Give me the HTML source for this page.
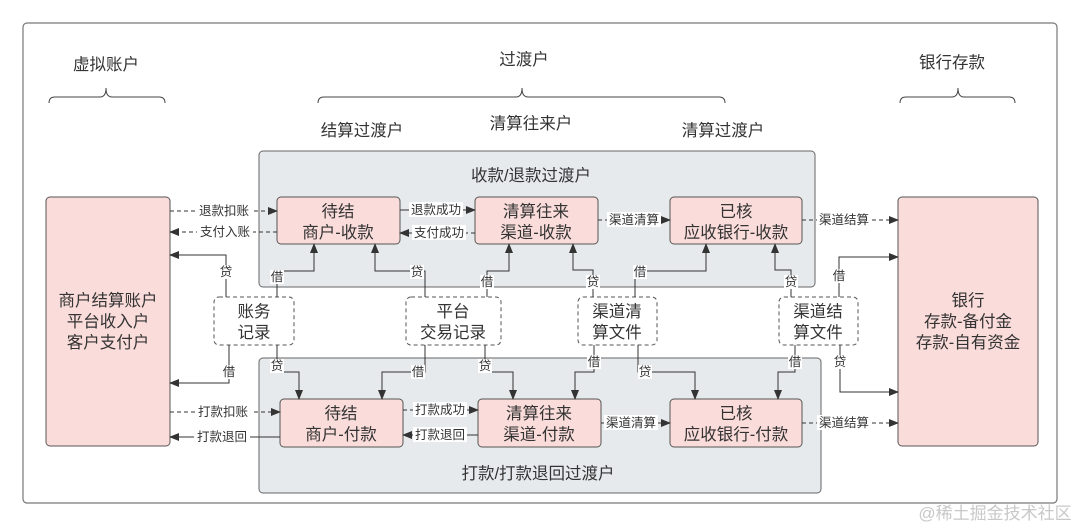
<!DOCTYPE html>
<html><head><meta charset="utf-8"><style>
html,body{margin:0;padding:0;background:#fff;width:1080px;height:527px;overflow:hidden}
svg text{font-family:"Liberation Sans","Noto Sans CJK SC",sans-serif;fill:#333}
.n{font-size:16.5px;text-anchor:middle}
.l{font-size:12.5px;text-anchor:middle}
</style></head><body>
<svg width="1080" height="527" viewBox="0 0 1080 527" xmlns="http://www.w3.org/2000/svg">
<defs>
<marker id="a" markerWidth="10" markerHeight="8" refX="9" refY="4" orient="auto" markerUnits="userSpaceOnUse">
<path d="M0,0 L10,4 L0,8 z" fill="#333"/></marker>
</defs>
<rect x="23" y="23" width="1034" height="480" rx="4" fill="#fff" stroke="#777" stroke-width="1.2"/>
<g fill="none" stroke="#444" stroke-width="1">
<path d="M49,103 Q49,97 55,97 L100,97 Q106,97 106,88 Q106,97 112,97 L159,97 Q165,97 165,103"/>
<path d="M318,103 Q318,97 324,97 L516,97 Q522,97 522,88 Q522,97 528,97 L719,97 Q725,97 725,103"/>
<path d="M900,103 Q900,97 906,97 L952,97 Q958,97 958,88 Q958,97 964,97 L1009,97 Q1015,97 1015,103"/>
</g>
<text class="n" x="106" y="70">虚拟账户</text>
<text class="n" x="524" y="65">过渡户</text>
<text class="n" x="952" y="68">银行存款</text>
<text class="n" x="362" y="136">结算过渡户</text>
<text class="n" x="531" y="129">清算往来户</text>
<text class="n" x="723" y="136">清算过渡户</text>
<rect x="259" y="151" width="556" height="136" rx="4" fill="#e6eaec" stroke="#666"/>
<rect x="259" y="358" width="562" height="135" rx="4" fill="#e6eaec" stroke="#666"/>
<text class="n" x="531" y="181">收款/退款过渡户</text>
<text class="n" x="538" y="479">打款/打款退回过渡户</text>
<rect x="46" y="197" width="124" height="249" rx="4" fill="#fadcda" stroke="#555"/>
<text class="n" x="108" y="306">商户结算账户</text>
<text class="n" x="108" y="327">平台收入户</text>
<text class="n" x="108" y="348">客户支付户</text>
<rect x="898" y="197" width="140" height="249" rx="4" fill="#fadcda" stroke="#555"/>
<text class="n" x="968" y="306">银行</text>
<text class="n" x="968" y="327">存款-备付金</text>
<text class="n" x="968" y="348">存款-自有资金</text>
<g fill="#fadcda" stroke="#555">
<rect x="277" y="197" width="123" height="47" rx="4"/>
<rect x="475" y="197" width="123" height="47" rx="4"/>
<rect x="670" y="197" width="132" height="47" rx="4"/>
<rect x="280" y="399" width="123" height="48" rx="4"/>
<rect x="478" y="399" width="123" height="48" rx="4"/>
<rect x="670" y="399" width="132" height="48" rx="4"/>
</g>
<text class="n" x="338" y="217">待结</text><text class="n" x="338" y="238">商户-收款</text>
<text class="n" x="536" y="217">清算往来</text><text class="n" x="536" y="238">渠道-收款</text>
<text class="n" x="736" y="217">已核</text><text class="n" x="736" y="238">应收银行-收款</text>
<text class="n" x="341" y="419">待结</text><text class="n" x="341" y="440">商户-付款</text>
<text class="n" x="539" y="419">清算往来</text><text class="n" x="539" y="440">渠道-付款</text>
<text class="n" x="736" y="419">已核</text><text class="n" x="736" y="440">应收银行-付款</text>
<g fill="#fff" stroke="#555" stroke-dasharray="4,3">
<rect x="214" y="297" width="80" height="48" rx="5"/>
<rect x="406" y="297" width="95" height="48" rx="5"/>
<rect x="578" y="297" width="79" height="48" rx="5"/>
<rect x="779" y="297" width="79" height="48" rx="5"/>
</g>
<text class="n" x="254" y="317">账务</text><text class="n" x="254" y="338">记录</text>
<text class="n" x="453" y="317">平台</text><text class="n" x="453" y="338">交易记录</text>
<text class="n" x="617" y="317">渠道清</text><text class="n" x="617" y="338">算文件</text>
<text class="n" x="818" y="317">渠道结</text><text class="n" x="818" y="338">算文件</text>
<g fill="none" stroke="#333" stroke-width="1" marker-end="url(#a)">
<g stroke-dasharray="4,3">
<path d="M170,211 H277"/><path d="M277,232 H170"/>
<path d="M475,233 H400"/><path d="M598,220 H670"/><path d="M802,220 H898"/>
<path d="M170,412 H280"/><path d="M403,410 H478"/>
<path d="M601,423 H670"/><path d="M802,423 H898"/>
</g>
<path d="M400,210 H475"/>
<path d="M280,437 H170"/><path d="M478,435 H403"/>
<path d="M226,297 V255 H170"/>
<path d="M277,297 V271 H314 V244"/>
<path d="M425,297 V271 H375 V244"/>
<path d="M487,297 V271 H509 V244"/>
<path d="M593,297 V270 H573 V244"/>
<path d="M635,297 V271 H706 V244"/>
<path d="M791,297 V270 H775 V244"/>
<path d="M839,297 V257 H898"/>
<path d="M229,345 V383 H170"/>
<path d="M277,345 V372 H299 V399"/>
<path d="M425,345 V372 H382 V399"/>
<path d="M485,345 V372 H513 V399"/>
<path d="M594,345 V372 H575 V399"/>
<path d="M638,345 V372 H695 V399"/>
<path d="M795,345 V372 H778 V399"/>
<path d="M840,345 V392 H898"/>
</g>
<g>
<g fill="#fff">
<rect x="196" y="203" width="56" height="15"/><rect x="197" y="224" width="56" height="15"/>
<rect x="409" y="202" width="54" height="15"/><rect x="412" y="225" width="54" height="15"/>
<rect x="607" y="212" width="54" height="15"/><rect x="817" y="212" width="54" height="15"/>
<rect x="195" y="404" width="56" height="15"/><rect x="194" y="429" width="56" height="15"/>
<rect x="413" y="402" width="54" height="15"/><rect x="413" y="427" width="54" height="15"/>
<rect x="604" y="415" width="54" height="15"/><rect x="817" y="415" width="54" height="15"/>
<rect x="219" y="265" width="14" height="14"/><rect x="270" y="270" width="14" height="14"/>
<rect x="410" y="265" width="14" height="14"/><rect x="480" y="275" width="14" height="14"/>
<rect x="586" y="275" width="14" height="14"/><rect x="633" y="265" width="14" height="14"/>
<rect x="784" y="275" width="14" height="14"/><rect x="832" y="269" width="14" height="14"/>
<rect x="222" y="365" width="14" height="14"/><rect x="270" y="359" width="14" height="14"/>
<rect x="411" y="365" width="14" height="14"/><rect x="478" y="359" width="14" height="14"/>
<rect x="587" y="355" width="14" height="14"/><rect x="638" y="365" width="14" height="14"/>
<rect x="788" y="355" width="14" height="14"/><rect x="833" y="355" width="14" height="14"/>
</g>
<text class="l" x="224" y="215">退款扣账</text><text class="l" x="225" y="236">支付入账</text>
<text class="l" x="436" y="214">退款成功</text><text class="l" x="439" y="237">支付成功</text>
<text class="l" x="634" y="224">渠道清算</text><text class="l" x="844" y="224">渠道结算</text>
<text class="l" x="223" y="416">打款扣账</text><text class="l" x="222" y="441">打款退回</text>
<text class="l" x="440" y="414">打款成功</text><text class="l" x="440" y="439">打款退回</text>
<text class="l" x="631" y="427">渠道清算</text><text class="l" x="844" y="427">渠道结算</text>
<text class="l" x="226" y="276">贷</text><text class="l" x="277" y="281">借</text>
<text class="l" x="417" y="276">贷</text><text class="l" x="487" y="286">借</text>
<text class="l" x="593" y="286">贷</text><text class="l" x="640" y="276">借</text>
<text class="l" x="791" y="286">贷</text><text class="l" x="839" y="280">借</text>
<text class="l" x="229" y="376">借</text><text class="l" x="277" y="370">贷</text>
<text class="l" x="418" y="376">借</text><text class="l" x="485" y="370">贷</text>
<text class="l" x="594" y="366">借</text><text class="l" x="645" y="376">贷</text>
<text class="l" x="795" y="366">借</text><text class="l" x="840" y="366">贷</text>
</g>
<text x="995" y="519" style="font-size:17px;text-anchor:middle;fill:#c8c8c8">@稀土掘金技术社区</text>
</svg>
</body></html>
